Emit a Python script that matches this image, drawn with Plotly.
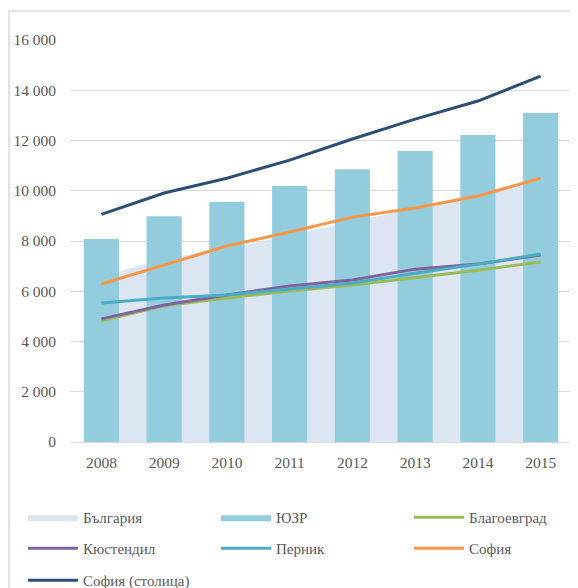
import plotly.graph_objects as go

years = ["2008", "2009", "2010", "2011", "2012", "2013", "2014", "2015"]
bulgaria = [6590, 7310, 7690, 8230, 8770, 9300, 9860, 10530]
yuzr = [8080, 8990, 9550, 10190, 10860, 11580, 12220, 13090]
blagoevgrad = [4820, 5420, 5730, 6010, 6250, 6530, 6840, 7160]
kyustendil = [4900, 5450, 5850, 6210, 6450, 6880, 7080, 7440]
pernik = [5530, 5730, 5850, 6090, 6330, 6720, 7080, 7480]
sofia_obl = [6290, 7040, 7800, 8360, 8950, 9310, 9790, 10500]
sofia_cap = [9060, 9910, 10500, 11220, 12060, 12850, 13570, 14560]

ytick_vals = [0, 2000, 4000, 6000, 8000, 10000, 12000, 14000, 16000]
ytick_text = ["0", "2 000", "4 000", "6 000", "8 000", "10 000", "12 000", "14 000", "16 000"]

FONT = "Liberation Serif"
GREY = "#595959"
BAR_COLOR = "#93CDDD"
W, H = 570, 580
L, R, T, B = 62, 6, 32, 146
PW, PH = W - L - R, H - T - B

def px_x(px):
    return (px - L) / PW

def px_y(py):
    return (T + PH - py) / PH

# legend slot positions (pixel left, pixel top) in figure coordinates
col_px = [15, 208, 401]
row_px = [493, 524, 556]
slots = [(c, r) for r in row_px for c in col_px]

fig = go.Figure()

fig.add_trace(go.Scatter(
    x=years, y=bulgaria, name="България", mode="lines",
    fill="tozeroy", fillcolor="#DCE6F2", line=dict(width=0, color="#DCE6F2"),
    xaxis="x", yaxis="y", legend="legend",
))
fig.add_trace(go.Bar(
    x=years, y=yuzr, name="ЮЗР", marker=dict(color=BAR_COLOR, line=dict(width=0)),
    xaxis="x2", yaxis="y2", legend="legend2", legendgroup="yuzr", showlegend=False,
))
# legend entry for the bars, drawn as a wide filled swatch like the reference
fig.add_trace(go.Scatter(
    x=[None], y=[None], name="ЮЗР", mode="lines", fill="tozeroy",
    fillcolor=BAR_COLOR, line=dict(width=0, color=BAR_COLOR),
    xaxis="x2", yaxis="y2", legend="legend2", legendgroup="yuzr",
))
line_series = [
    ("Благоевград", blagoevgrad, "#9BBB59"),
    ("Кюстендил", kyustendil, "#8064A2"),
    ("Перник", pernik, "#4BACC6"),
    ("София", sofia_obl, "#F79646"),
    ("София (столица)", sofia_cap, "#2C4D75"),
]
for i, (name, vals, col) in enumerate(line_series):
    fig.add_trace(go.Scatter(
        x=years, y=vals, name=name, mode="lines",
        line=dict(color=col, width=3),
        xaxis="x2", yaxis="y2", legend="legend" + str(i + 3),
    ))

legends = {}
for i, (cx, ry) in enumerate(slots[:7]):
    key = "legend" if i == 0 else "legend" + str(i + 1)
    legends[key] = dict(orientation="h", x=px_x(cx), y=px_y(ry),
                        xanchor="left", yanchor="top", itemwidth=50,
                        font=dict(family=FONT, size=15, color=GREY),
                        bgcolor="rgba(0,0,0,0)")

axis_common = dict(type="category", categoryorder="array", categoryarray=years,
                   range=[-0.5, 7.5])
fig.update_layout(
    width=W, height=H,
    margin=dict(l=L, r=R, t=T, b=B, autoexpand=False),
    paper_bgcolor="white", plot_bgcolor="white",
    font=dict(family=FONT, size=15, color=GREY),
    bargap=0.44,
    xaxis=dict(**axis_common, showgrid=False, showline=True, linecolor="#D9D9D9",
               linewidth=1, ticks="", automargin=False,
               tickfont=dict(family=FONT, size=15.5, color=GREY),
               ticklabelstandoff=6),
    yaxis=dict(range=[0, 16000], tickvals=ytick_vals, ticktext=ytick_text,
               showgrid=True, gridcolor="#D9D9D9", gridwidth=1, zeroline=False,
               ticks="", automargin=False,
               tickfont=dict(family=FONT, size=15.5, color=GREY),
               ticklabelstandoff=13),
    xaxis2=dict(**axis_common, overlaying="x", visible=False),
    yaxis2=dict(range=[0, 16000], overlaying="y", visible=False),
    showlegend=True,
    shapes=[dict(type="rect", xref="paper", yref="paper",
                 x0=px_x(1), x1=1.05, y0=-0.5, y1=px_y(3),
                 line=dict(color="#D9D9D9", width=1.5), fillcolor="rgba(0,0,0,0)",
                 layer="below")],
    **legends,
)

fig.write_html("out.html")
